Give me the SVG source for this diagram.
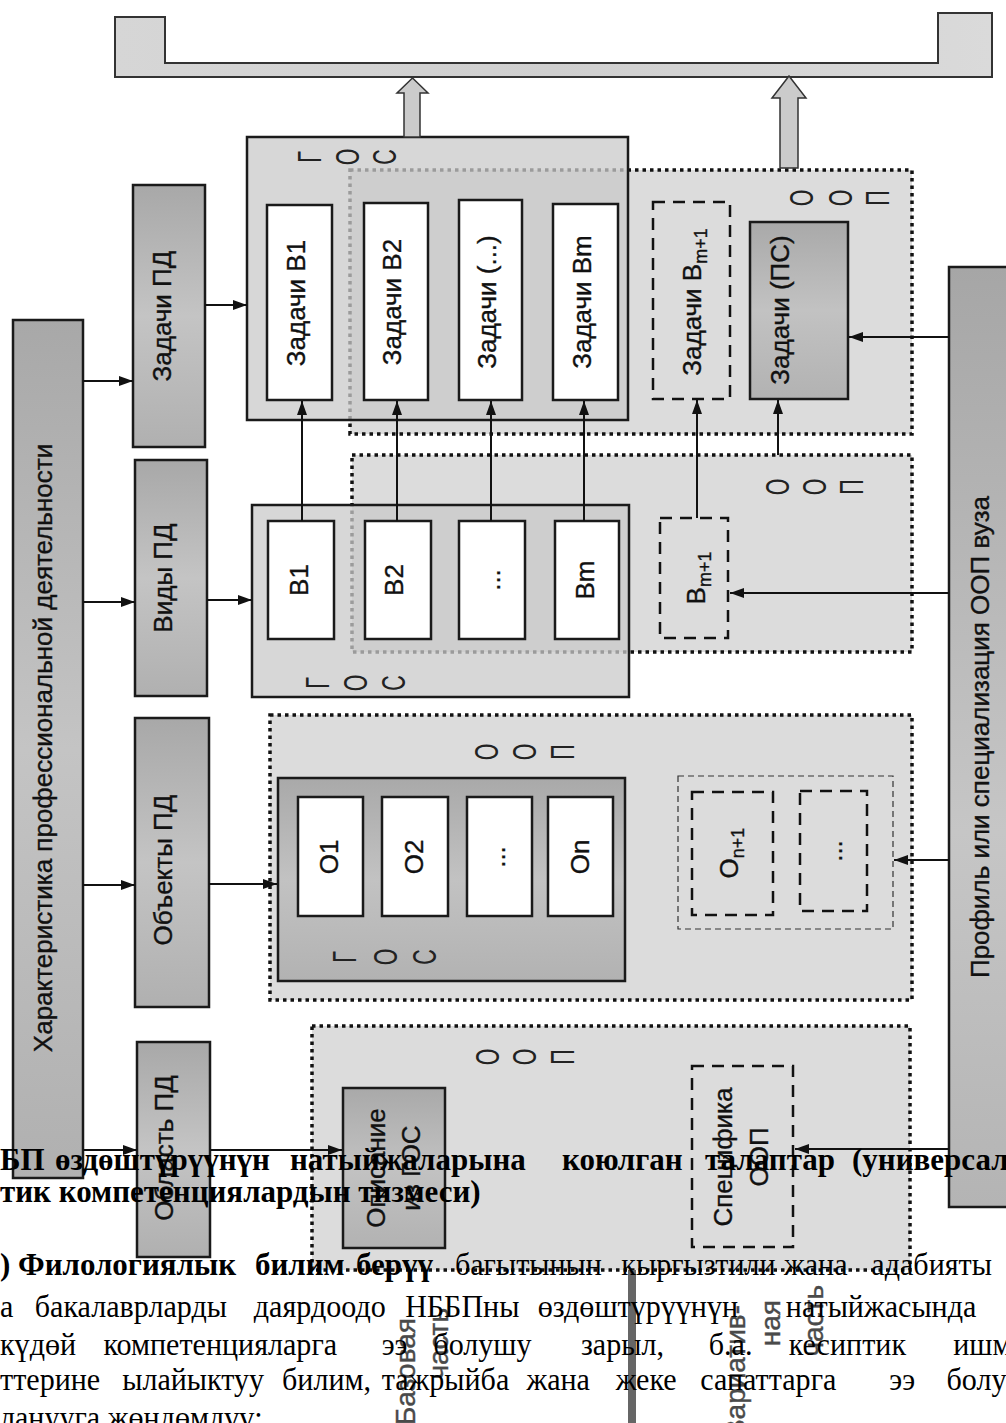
<svg xmlns="http://www.w3.org/2000/svg" width="1006" height="1423" viewBox="0 0 1006 1423">
<defs>
  <marker id="ah" markerWidth="14" markerHeight="10" refX="14" refY="5" orient="auto" markerUnits="userSpaceOnUse">
    <path d="M0,0 L14,5 L0,10 Z" fill="#111"/>
  </marker>
  <linearGradient id="gMid" x1="0" y1="0" x2="0" y2="1">
    <stop offset="0" stop-color="#a8a8a8"/>
    <stop offset="0.5" stop-color="#c4c4c4"/>
    <stop offset="1" stop-color="#b0b0b0"/>
  </linearGradient>
  <linearGradient id="gDark" x1="0" y1="0" x2="0" y2="1">
    <stop offset="0" stop-color="#a9a9a9"/>
    <stop offset="0.5" stop-color="#c2c2c2"/>
    <stop offset="1" stop-color="#b2b2b2"/>
  </linearGradient>
  <linearGradient id="gRight" x1="0" y1="0" x2="0" y2="1">
    <stop offset="0" stop-color="#a6a6a6"/>
    <stop offset="0.6" stop-color="#c6c6c6"/>
    <stop offset="1" stop-color="#b4b4b4"/>
  </linearGradient>
  <linearGradient id="gBr" x1="0" y1="0" x2="1" y2="0">
    <stop offset="0" stop-color="#d6d6d6"/>
    <stop offset="0.5" stop-color="#cfcfcf"/>
    <stop offset="1" stop-color="#dadada"/>
  </linearGradient>
</defs>
<style>
  .lbl{font-family:"Liberation Sans",Arial,sans-serif;font-size:26px;fill:#111;stroke:#111;stroke-width:0.35;text-anchor:middle}
  .sub{font-size:18px}
  .gl{font-family:"Liberation Sans",Arial,sans-serif;font-size:33px;fill:#222;text-anchor:middle;dominant-baseline:central}
  .solid{stroke:#1a1a1a;stroke-width:2.5}
  .gray{fill:url(#gMid)}
  .dark{fill:url(#gDark)}
  .white{fill:#fff;stroke:#1a1a1a;stroke-width:2.5}
  .oop{fill:#dcdcdc;stroke:#111;stroke-width:3.5;stroke-dasharray:3.5 4}
  .goc{fill:#c9c9c9;fill-opacity:0.75;stroke:#1a1a1a;stroke-width:2.5}
  .dash{fill:none;stroke:#111;stroke-width:2.5;stroke-dasharray:12 8}
  .thin{fill:none;stroke:#333;stroke-width:1.2;stroke-dasharray:6 4}
  .conn{stroke:#111;stroke-width:2;fill:none}
  .block{fill:#cbcbcb;stroke:#333;stroke-width:1.5}
  .part{font-family:"Liberation Sans",Arial,sans-serif;font-size:28px;fill:#4a4a4a;stroke:#4a4a4a;stroke-width:0.4}
  .para{font-family:"Liberation Serif","Times New Roman","DejaVu Serif",serif;font-size:32px;fill:#000}
  .b{font-weight:bold;font-size:31px}
</style>
<rect x="0" y="0" width="1006" height="1423" fill="#fff"/>

<!-- top bracket -->
<g id="n-bracket">
  <path d="M115,17 H165 V63 H938 V13 H992 V77 H115 Z" fill="url(#gBr)" stroke="#333" stroke-width="2"/>
</g>

<!-- left column -->
<g id="n-char">
  <rect x="13" y="320" width="70" height="858" class="gray solid"/>
  <text class="lbl" transform="translate(52,748) rotate(-90)">Характеристика профессиональной деятельности</text>
</g>
<g id="n-zadachi-pd">
  <rect x="133" y="185" width="72" height="262" class="gray solid"/>
  <text class="lbl" transform="translate(171,316) rotate(-90)">Задачи ПД</text>
</g>
<g id="n-vidy-pd">
  <rect x="135" y="460" width="72" height="236" class="gray solid"/>
  <text class="lbl" transform="translate(172,578) rotate(-90)">Виды ПД</text>
</g>
<g id="n-obekty-pd">
  <rect x="135" y="718" width="74" height="289" class="gray solid"/>
  <text class="lbl" transform="translate(172,870) rotate(-90)">Объекты ПД</text>
</g>
<g id="n-oblast-pd">
  <rect x="137" y="1042" width="73" height="215" class="gray solid"/>
  <text class="lbl" transform="translate(173,1148) rotate(-90)">Область ПД</text>
</g>

<!-- right column -->
<g id="n-profil">
  <rect x="949" y="267" width="70" height="940" fill="url(#gRight)" class="solid"/>
  <text class="lbl" transform="translate(989,737) rotate(-90)">Профиль или специализация ООП вуза</text>
</g>

<!-- Задачи row -->
<g id="n-oop-zadachi">
  <rect x="350" y="170" width="562" height="264" class="oop"/>
  <text class="gl" transform="translate(802,198) rotate(-90) scale(0.65,1)">О</text>
  <text class="gl" transform="translate(841,198) rotate(-90) scale(0.65,1)">О</text>
  <text class="gl" transform="translate(878,198) rotate(-90) scale(0.65,1)">П</text>
</g>
<g id="n-gos-zadachi">
  <rect x="247" y="137" width="381" height="283" class="goc"/>
  <text class="gl" transform="translate(310,157) rotate(-90) scale(0.65,1)">Г</text>
  <text class="gl" transform="translate(348,157) rotate(-90) scale(0.65,1)">О</text>
  <text class="gl" transform="translate(385,157) rotate(-90) scale(0.65,1)">С</text>
</g>
<g id="n-zb1">
  <rect x="267" y="205" width="65" height="195" class="white"/>
  <text class="lbl" transform="translate(305,303) rotate(-90)">Задачи В1</text>
</g>
<g id="n-zb2">
  <rect x="364" y="203" width="64" height="197" class="white"/>
  <text class="lbl" transform="translate(401,302) rotate(-90)">Задачи В2</text>
</g>
<g id="n-zbdots">
  <rect x="459" y="200" width="63" height="200" class="white"/>
  <text class="lbl" transform="translate(496,302) rotate(-90)">Задачи (...)</text>
</g>
<g id="n-zbm">
  <rect x="553" y="204" width="65" height="196" class="white"/>
  <text class="lbl" transform="translate(591,302) rotate(-90)">Задачи Вm</text>
</g>
<g id="n-zbm1">
  <rect x="653" y="202" width="77" height="197" class="dash"/>
  <text class="lbl" transform="translate(701,302) rotate(-90)">Задачи В<tspan class="sub" dy="6">m+1</tspan></text>
</g>
<g id="n-zps">
  <rect x="750" y="222" width="98" height="177" class="dark solid"/>
  <text class="lbl" transform="translate(789,310) rotate(-90)">Задачи (ПС)</text>
</g>

<!-- Виды row -->
<g id="n-oop-vidy">
  <rect x="352" y="455" width="560" height="197" class="oop"/>
  <text class="gl" transform="translate(778,487) rotate(-90) scale(0.65,1)">О</text>
  <text class="gl" transform="translate(815,487) rotate(-90) scale(0.65,1)">О</text>
  <text class="gl" transform="translate(852,487) rotate(-90) scale(0.65,1)">П</text>
</g>
<g id="n-gos-vidy">
  <rect x="252" y="505" width="377" height="192" class="goc"/>
  <text class="gl" transform="translate(318,683) rotate(-90) scale(0.65,1)">Г</text>
  <text class="gl" transform="translate(356,683) rotate(-90) scale(0.65,1)">О</text>
  <text class="gl" transform="translate(394,683) rotate(-90) scale(0.65,1)">С</text>
</g>
<g id="n-b1">
  <rect x="268" y="521" width="66" height="118" class="white"/>
  <text class="lbl" transform="translate(308,580) rotate(-90)">В1</text>
</g>
<g id="n-b2">
  <rect x="365" y="521" width="66" height="118" class="white"/>
  <text class="lbl" transform="translate(403,580) rotate(-90)">В2</text>
</g>
<g id="n-bdots">
  <rect x="459" y="521" width="66" height="118" class="white"/>
  <text class="lbl" transform="translate(500,580) rotate(-90)">...</text>
</g>
<g id="n-bm">
  <rect x="555" y="521" width="64" height="118" class="white"/>
  <text class="lbl" transform="translate(594,580) rotate(-90)">Вm</text>
</g>
<g id="n-bm1">
  <rect x="660" y="518" width="68" height="120" class="dash"/>
  <text class="lbl" transform="translate(705,578) rotate(-90)">В<tspan class="sub" dy="6">m+1</tspan></text>
</g>

<!-- Объекты row -->
<g id="n-oop-obekty">
  <rect x="270" y="715" width="642" height="285" class="oop"/>
  <text class="gl" transform="translate(487,752) rotate(-90) scale(0.65,1)">О</text>
  <text class="gl" transform="translate(525,752) rotate(-90) scale(0.65,1)">О</text>
  <text class="gl" transform="translate(563,752) rotate(-90) scale(0.65,1)">П</text>
</g>
<g id="n-gos-obekty">
  <rect x="278" y="778" width="347" height="203" class="dark solid"/>
  <text class="gl" transform="translate(345,957) rotate(-90) scale(0.65,1)">Г</text>
  <text class="gl" transform="translate(386,957) rotate(-90) scale(0.65,1)">О</text>
  <text class="gl" transform="translate(425,957) rotate(-90) scale(0.65,1)">С</text>
</g>
<g id="n-o1">
  <rect x="298" y="797" width="65" height="119" class="white"/>
  <text class="lbl" transform="translate(338,857) rotate(-90)">О1</text>
</g>
<g id="n-o2">
  <rect x="382" y="797" width="66" height="119" class="white"/>
  <text class="lbl" transform="translate(423,857) rotate(-90)">О2</text>
</g>
<g id="n-odots">
  <rect x="467" y="797" width="65" height="119" class="white"/>
  <text class="lbl" transform="translate(505,857) rotate(-90)">...</text>
</g>
<g id="n-on">
  <rect x="548" y="797" width="65" height="119" class="white"/>
  <text class="lbl" transform="translate(589,857) rotate(-90)">Оn</text>
</g>
<g id="n-ogroup">
  <rect x="678" y="776" width="215" height="153" class="thin"/>
</g>
<g id="n-on1">
  <rect x="692" y="792" width="81" height="123" class="dash"/>
  <text class="lbl" transform="translate(738,853) rotate(-90)">О<tspan class="sub" dy="6">n+1</tspan></text>
</g>
<g id="n-on2">
  <rect x="800" y="791" width="67" height="120" class="dash"/>
  <text class="lbl" transform="translate(842,851) rotate(-90)">...</text>
</g>

<!-- Область row -->
<g id="n-oop-oblast">
  <rect x="312" y="1026" width="598" height="244" class="oop"/>
  <text class="gl" transform="translate(488,1057) rotate(-90) scale(0.65,1)">О</text>
  <text class="gl" transform="translate(525,1057) rotate(-90) scale(0.65,1)">О</text>
  <text class="gl" transform="translate(563,1057) rotate(-90) scale(0.65,1)">П</text>
</g>
<g id="n-opisanie">
  <rect x="343" y="1088" width="102" height="160" class="dark solid"/>
  <text class="lbl" transform="translate(385,1168) rotate(-90)">Описание</text>
  <text class="lbl" transform="translate(420,1168) rotate(-90)">из ГОС</text>
</g>
<g id="n-specifika">
  <rect x="692" y="1066" width="101" height="181" class="dash"/>
  <text class="lbl" transform="translate(732,1157) rotate(-90)">Специфика</text>
  <text class="lbl" transform="translate(768,1157) rotate(-90)">ООП</text>
</g>

<!-- parts -->
<g id="n-parts">
  <rect x="628" y="1270" width="8" height="153" fill="#666"/>
  <text class="part" transform="translate(415,1318) rotate(-90)" text-anchor="end">Базовая</text>
  <text class="part" transform="translate(448,1308) rotate(-90)" text-anchor="end">часть</text>
  <text class="part" transform="translate(745,1305) rotate(-90)" text-anchor="end">Вариатив-</text>
  <text class="part" transform="translate(780,1300) rotate(-90)" text-anchor="end">ная</text>
  <text class="part" transform="translate(823,1285) rotate(-90)" text-anchor="end">часть</text>
</g>

<!-- connectors -->
<g id="connectors">
  <path class="block" d="M404,137 V93 H397 L412.5,78 L428,93 H420 V137 Z"/>
  <path class="block" d="M780,168 V98 H772 L789,76 L806,98 H798 V168 Z"/>
  <g class="conn">
    <line x1="83" y1="381" x2="133" y2="381" marker-end="url(#ah)"/>
    <line x1="83" y1="602" x2="135" y2="602" marker-end="url(#ah)"/>
    <line x1="83" y1="885" x2="135" y2="885" marker-end="url(#ah)"/>
    <line x1="83" y1="1150" x2="137" y2="1150" marker-end="url(#ah)"/>
    <line x1="205" y1="305" x2="247" y2="305" marker-end="url(#ah)"/>
    <line x1="207" y1="600" x2="252" y2="600" marker-end="url(#ah)"/>
    <line x1="209" y1="884" x2="277" y2="884" marker-end="url(#ah)"/>
    <line x1="210" y1="1150" x2="342" y2="1150" marker-end="url(#ah)"/>
    <line x1="302" y1="521" x2="302" y2="401" marker-end="url(#ah)"/>
    <line x1="397" y1="521" x2="397" y2="401" marker-end="url(#ah)"/>
    <line x1="491" y1="521" x2="491" y2="401" marker-end="url(#ah)"/>
    <line x1="584" y1="521" x2="584" y2="401" marker-end="url(#ah)"/>
    <line x1="697" y1="518" x2="697" y2="400" marker-end="url(#ah)"/>
    <line x1="778" y1="455" x2="778" y2="400" marker-end="url(#ah)"/>
    <line x1="949" y1="337" x2="849" y2="337" marker-end="url(#ah)"/>
    <line x1="949" y1="593" x2="730" y2="593" marker-end="url(#ah)"/>
    <line x1="949" y1="860" x2="894" y2="860" marker-end="url(#ah)"/>
    <line x1="949" y1="1149" x2="795" y2="1149" marker-end="url(#ah)"/>
  </g>
</g>

<!-- overlaid page text -->
<g id="page-text">
  <text class="para b" y="1170"><tspan x="0">БП</tspan><tspan x="55">өздөштүрүүнүн</tspan><tspan x="290">натыйжаларына</tspan><tspan x="562">коюлган</tspan><tspan x="705">талаптар</tspan><tspan x="852">(универсал</tspan></text>
  <text class="para b" x="0" y="1202">тик компетенциялардын тизмеси)</text>
  <text class="para b" y="1275"><tspan x="0">)</tspan><tspan x="18">Филологиялык</tspan><tspan x="255">билим</tspan><tspan x="356">берүү</tspan></text>
  <text class="para" y="1275" transform="scale(0.94,1)"><tspan x="484">багытынын</tspan><tspan x="661">кыргыз</tspan><tspan x="761">тили</tspan><tspan x="834">жана</tspan><tspan x="927">адабияты</tspan></text>
  <text class="para" y="1317" transform="scale(0.94,1)"><tspan x="0">а</tspan><tspan x="37">бакалаврларды</tspan><tspan x="270">даярдоодо</tspan><tspan x="431">НББПны</tspan><tspan x="572">өздөштүрүүнүн</tspan><tspan x="836">натыйжасында</tspan></text>
  <text class="para" y="1355" transform="scale(0.94,1)"><tspan x="0">күдөй</tspan><tspan x="110">компетенцияларга</tspan><tspan x="406">ээ</tspan><tspan x="461">болушу</tspan><tspan x="618">зарыл,</tspan><tspan x="754">б.а.</tspan><tspan x="839">кесиптик</tspan><tspan x="1014">ишмер</tspan></text>
  <text class="para" y="1390" transform="scale(0.94,1)"><tspan x="0">ттерине</tspan><tspan x="130">ылайыктуу</tspan><tspan x="300">билим,</tspan><tspan x="406">тажрыйба</tspan><tspan x="560">жана</tspan><tspan x="655">жеке</tspan><tspan x="745">сапаттарга</tspan><tspan x="946">ээ</tspan><tspan x="1007">болу</tspan></text>
  <text class="para" x="0" y="1428" transform="scale(0.94,1)">ланууга жөндөмдүү;</text>
</g>
</svg>
